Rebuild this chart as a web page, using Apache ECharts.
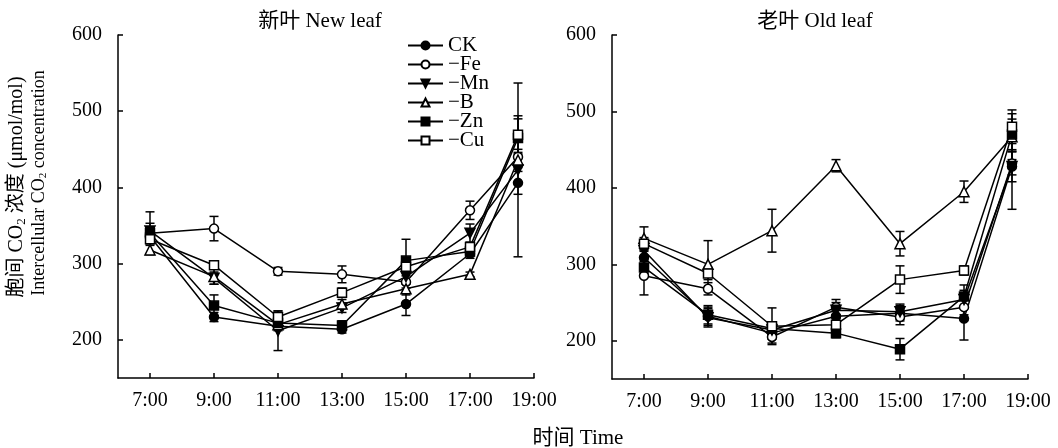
<!DOCTYPE html>
<html>
<head>
<meta charset="utf-8">
<script src="https://cdn.jsdelivr.net/npm/echarts@6/dist/echarts.min.js"></script>
<style>
html, body { margin: 0; padding: 0; background: #fff; }
#chart { width: 1058px; height: 448px; }
</style>
</head>
<body>
<div id="chart"></div>
<script>
var times = [7, 9, 11, 13, 15, 17, 18.5];
var xTicks = [7, 9, 11, 13, 15, 17, 19];
var yTicks = [200, 300, 400, 500, 600];
var names = ['CK', '−Fe', '−Mn', '−B', '−Zn', '−Cu'];

// 新叶 New leaf
var newCK = [336, 230, 218, 214, 247, 313, 406];
var newCKErr = [8, 6, 6, 5, 15, 6, 15];
var newFe = [340, 346, 290, 286, 276, 370, 440];
var newFeErr = [28, 16, 5, 11, 8, 12, 10];
var newMn = [343, 281, 212, 242, 283, 340, 423];
var newMnErr = [10, 8, 26, 6, 10, 12, 114];
var newB = [318, 283, 220, 247, 267, 286, 436];
var newBErr = [6, 10, 6, 6, 8, 3, 10];
var newZn = [340, 245, 222, 219, 304, 316, 465];
var newZnErr = [8, 14, 6, 6, 28, 6, 25];
var newCu = [332, 298, 230, 262, 296, 322, 469];
var newCuErr = [6, 5, 8, 6, 8, 6, 25];

// 老叶 Old leaf
var oldCK = [309, 232, 210, 232, 236, 229, 428];
var oldCKErr = [8, 12, 8, 8, 10, 28, 56];
var oldFe = [285, 268, 205, 244, 231, 244, 432];
var oldFeErr = [25, 8, 8, 10, 10, 10, 15];
var oldMn = [318, 230, 214, 240, 238, 254, 428];
var oldMnErr = [8, 12, 8, 10, 10, 12, 20];
var oldB = [334, 300, 344, 429, 327, 395, 467];
var oldBErr = [15, 31, 28, 8, 16, 14, 30];
var oldZn = [296, 234, 216, 210, 189, 258, 470];
var oldZnErr = [8, 12, 8, 6, 14, 15, 20];
var oldCu = [327, 288, 219, 221, 280, 292, 480];
var oldCuErr = [8, 8, 24, 8, 18, 6, 22];

var FONT = '"Liberation Serif", "Noto Sans CJK SC", serif';

var styles = [
    { symbol: 'circle', fill: '#000', size: 9, rotate: 0 },
    { symbol: 'circle', fill: '#fff', size: 9, rotate: 0 },
    { symbol: 'triangle', fill: '#000', size: 10, rotate: 180 },
    { symbol: 'triangle', fill: '#fff', size: 10, rotate: 0 },
    { symbol: 'rect', fill: '#000', size: 9, rotate: 0 },
    { symbol: 'rect', fill: '#fff', size: 9, rotate: 0 }
];

function lineSeries(idx, means, gi) {
    var s = styles[idx];
    return {
        name: names[idx],
        type: 'line',
        xAxisIndex: gi,
        yAxisIndex: gi,
        z: 3,
        symbol: s.symbol,
        symbolSize: s.size,
        symbolRotate: s.rotate,
        showAllSymbol: true,
        lineStyle: { color: '#000', width: 1.5 },
        itemStyle: { color: s.fill, borderColor: '#000', borderWidth: 1.5 },
        data: times.map(function (t, i) { return [t, means[i]]; })
    };
}

function errSeries(means, errs, gi) {
    return {
        type: 'custom',
        xAxisIndex: gi,
        yAxisIndex: gi,
        z: 2,
        silent: true,
        encode: { x: 0, y: [1, 2] },
        data: times.map(function (t, i) { return [t, means[i] - errs[i], means[i] + errs[i]]; }),
        renderItem: function (params, api) {
            var lo = api.coord([api.value(0), api.value(1)]);
            var hi = api.coord([api.value(0), api.value(2)]);
            var w = 4.5;
            var st = { stroke: '#000', lineWidth: 1.5 };
            return {
                type: 'group',
                children: [
                    { type: 'line', shape: { x1: lo[0], y1: lo[1], x2: hi[0], y2: hi[1] }, style: st },
                    { type: 'line', shape: { x1: lo[0] - w, y1: lo[1], x2: lo[0] + w, y2: lo[1] }, style: st },
                    { type: 'line', shape: { x1: hi[0] - w, y1: hi[1], x2: hi[0] + w, y2: hi[1] }, style: st }
                ]
            };
        }
    };
}

function xAxis(gi) {
    return {
        type: 'value', gridIndex: gi, min: 6, max: 19,
        axisLine: { lineStyle: { color: '#000', width: 1.5 } },
        axisTick: { inside: true, length: 5, customValues: xTicks, lineStyle: { color: '#000', width: 1.5 } },
        axisLabel: { customValues: xTicks, margin: 13, color: '#000', fontSize: 20, fontFamily: FONT,
            formatter: function (v) { return v + ':00'; } },
        splitLine: { show: false }
    };
}

function yAxis(gi) {
    return {
        type: 'value', gridIndex: gi, min: 150, max: 600,
        axisLine: { show: true, lineStyle: { color: '#000', width: 1.5 } },
        axisTick: { show: true, inside: true, length: 5, customValues: yTicks, lineStyle: { color: '#000', width: 1.5 } },
        axisLabel: { customValues: yTicks, margin: 16, color: '#000', fontSize: 20, fontFamily: FONT },
        splitLine: { show: false }
    };
}

var newSets = [[newCK, newCKErr], [newFe, newFeErr], [newMn, newMnErr], [newB, newBErr], [newZn, newZnErr], [newCu, newCuErr]];
var oldSets = [[oldCK, oldCKErr], [oldFe, oldFeErr], [oldMn, oldMnErr], [oldB, oldBErr], [oldZn, oldZnErr], [oldCu, oldCuErr]];

var series = [];
newSets.forEach(function (d) { series.push(errSeries(d[0], d[1], 0)); });
oldSets.forEach(function (d) { series.push(errSeries(d[0], d[1], 1)); });
newSets.forEach(function (d, i) { series.push(lineSeries(i, d[0], 0)); });
oldSets.forEach(function (d, i) { series.push(lineSeries(i, d[0], 1)); });

function subRich(size) {
    return {
        a: { fontSize: size, fontFamily: FONT, color: '#000' },
        s: { fontSize: Math.round(size * 0.63), fontFamily: FONT, color: '#000', padding: [9, 0, 0, 0] }
    };
}

var myChart = echarts.init(document.getElementById('chart'));
myChart.setOption({
    animation: false,
    backgroundColor: '#fff',
    grid: [
        { left: 118, top: 35, width: 416, height: 343 },
        { left: 612, top: 35, width: 416, height: 344 }
    ],
    xAxis: [xAxis(0), xAxis(1)],
    yAxis: [yAxis(0), yAxis(1)],
    legend: {
        orient: 'vertical',
        left: 402,
        top: 30,
        itemGap: -2,
        itemWidth: 35,
        itemHeight: 10,
        itemTextGap: 8,
        textStyle: { fontSize: 21, fontFamily: FONT, color: '#000', lineHeight: 19 },
        data: names
    },
    graphic: [
        { type: 'text', x: 320, y: 21, style: { text: '新叶 New leaf', font: '21px ' + FONT, fill: '#000', align: 'center', verticalAlign: 'middle' } },
        { type: 'text', x: 815, y: 21, style: { text: '老叶 Old leaf', font: '21px ' + FONT, fill: '#000', align: 'center', verticalAlign: 'middle' } },
        { type: 'text', x: 578, y: 438, style: { text: '时间 Time', font: '21px ' + FONT, fill: '#000', align: 'center', verticalAlign: 'middle' } },
        { type: 'text', x: 17, y: 187, rotation: Math.PI / 2,
          style: { text: '{a|胞间 CO}{s|2}{a| 浓度 (μmol/mol)}', rich: subRich(20), align: 'center', verticalAlign: 'middle' } },
        { type: 'text', x: 39, y: 183, rotation: Math.PI / 2,
          style: { text: '{a|Intercellular CO}{s|2}{a| concentration}', rich: subRich(18), align: 'center', verticalAlign: 'middle' } }
    ],
    series: series
});
</script>
</body>
</html>
